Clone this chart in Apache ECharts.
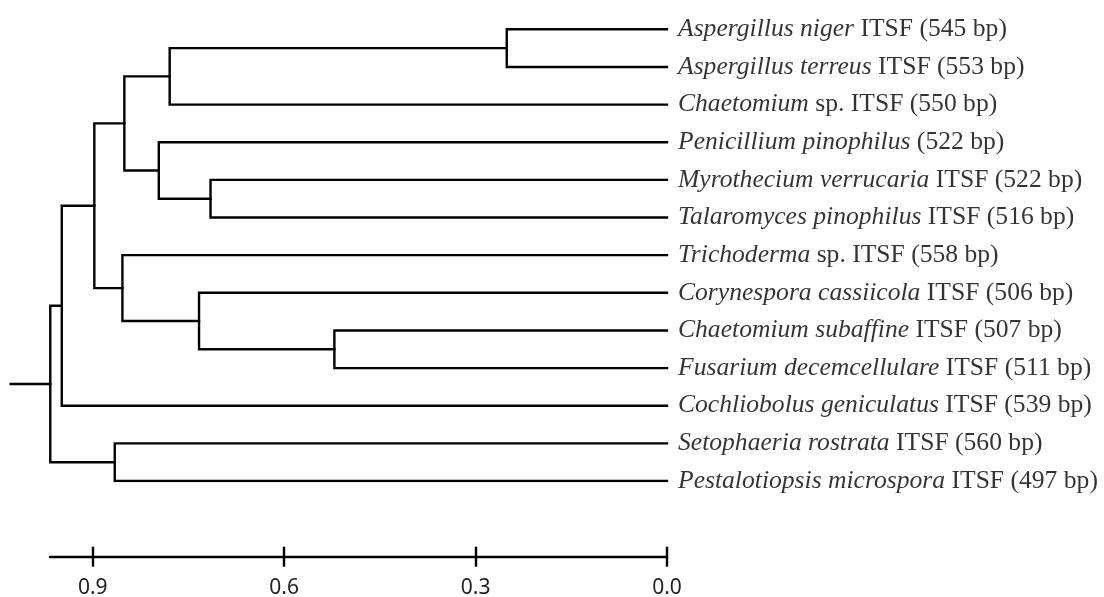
<!DOCTYPE html>
<html>
<head>
<meta charset="utf-8">
<script src="https://cdn.jsdelivr.net/npm/echarts@6/dist/echarts.min.js"></script>
<style>
html,body{margin:0;padding:0;background:#fff;}
#c{width:1104px;height:597px;}
</style>
</head>
<body>
<div id="c"></div>
<script>
// Leaf labels (italic part, plain part)
const leafItalic = [
  'Aspergillus niger', 'Aspergillus terreus', 'Chaetomium', 'Penicillium pinophilus',
  'Myrothecium verrucaria', 'Talaromyces pinophilus', 'Trichoderma', 'Corynespora cassiicola',
  'Chaetomium subaffine', 'Fusarium decemcellulare', 'Cochliobolus geniculatus',
  'Setophaeria rostrata', 'Pestalotiopsis microspora'
];
const leafPlain = [
  'ITSF (545 bp)', 'ITSF (553 bp)', 'sp. ITSF (550 bp)', '(522 bp)',
  'ITSF (522 bp)', 'ITSF (516 bp)', 'sp. ITSF (558 bp)', 'ITSF (506 bp)',
  'ITSF (507 bp)', 'ITSF (511 bp)', 'ITSF (539 bp)',
  'ITSF (560 bp)', 'ITSF (497 bp)'
];
// Merges: [childA, childB, height]; new node ids start at leaf count
const merges = [
  [0, 1, 0.251],
  [13, 2, 0.779],
  [4, 5, 0.715],
  [3, 15, 0.796],
  [14, 16, 0.850],
  [8, 9, 0.521],
  [7, 18, 0.733],
  [6, 19, 0.853],
  [17, 20, 0.897],
  [21, 10, 0.948],
  [11, 12, 0.865],
  [22, 23, 0.966]
];
const rootStub = 1.028;
const scaleBarMax = 0.967;
const tickValues = [0, 0.3, 0.6, 0.9];

const n = leafItalic.length;
const nodeY = [], nodeH = [];
for (let i = 0; i < n; i++) { nodeY.push(i); nodeH.push(0); }
const segs = [];
merges.forEach(([a, b, h]) => {
  segs.push({coords: [[nodeH[a], nodeY[a]], [h, nodeY[a]], [h, nodeY[b]], [nodeH[b], nodeY[b]]]});
  nodeY.push((nodeY[a] + nodeY[b]) / 2);
  nodeH.push(h);
});
const root = nodeY.length - 1;
segs.push({coords: [[nodeH[root], nodeY[root]], [rootStub, nodeY[root]]]});

const leafData = leafItalic.map((s, i) => [0, i]);

const chart = echarts.init(document.getElementById('c'), null, {renderer: 'canvas'});
chart.setOption({
  animation: false,
  backgroundColor: '#fff',
  grid: [
    {left: 10.7, right: 437, top: 29.3, height: 451.7},
    {left: 50, right: 437, top: 556.7, height: 0}
  ],
  xAxis: [
    {gridIndex: 0, type: 'value', min: 0, max: rootStub, inverse: true, show: false},
    {gridIndex: 1, type: 'value', min: 0, max: scaleBarMax, inverse: true, position: 'bottom',
      axisLine: {show: true, lineStyle: {color: '#000', width: 2.4}},
      axisTick: {show: true, length: 10, customValues: tickValues, lineStyle: {color: '#000', width: 2.4}},
      axisLabel: {show: true, customValues: tickValues, margin: 21, fontFamily: 'Noto Sans', fontSize: 21, color: '#222',
        formatter: v => Number(v).toFixed(1)},
      splitLine: {show: false}},
    {gridIndex: 1, type: 'value', min: 0, max: scaleBarMax, inverse: true, position: 'top',
      axisLine: {show: false},
      axisTick: {show: true, length: 10, customValues: tickValues, lineStyle: {color: '#000', width: 2.4}},
      axisLabel: {show: false},
      splitLine: {show: false}}
  ],
  yAxis: [
    {gridIndex: 0, type: 'value', min: 0, max: n - 1, inverse: true, show: false},
    {gridIndex: 1, type: 'value', min: 0, max: 1, show: false}
  ],
  series: [
    {
      type: 'lines', coordinateSystem: 'cartesian2d', xAxisIndex: 0, yAxisIndex: 0,
      polyline: true, silent: true,
      lineStyle: {color: '#000', width: 2.4, opacity: 1, join: 'miter', cap: 'square'},
      data: segs
    },
    {
      type: 'scatter', xAxisIndex: 0, yAxisIndex: 0, symbolSize: 0, silent: true,
      data: leafData,
      label: {
        show: true, position: 'right', distance: 11, color: '#000',
        formatter: p => '{i|' + leafItalic[p.dataIndex] + '}{n| ' + leafPlain[p.dataIndex] + '}',
        rich: {
          i: {fontFamily: 'Liberation Serif', fontStyle: 'italic', fontSize: 25.6, color: '#000'},
          n: {fontFamily: 'Liberation Serif', fontStyle: 'normal', fontSize: 25.6, color: '#000'}
        }
      }
    }
  ]
});
</script>
</body>
</html>
